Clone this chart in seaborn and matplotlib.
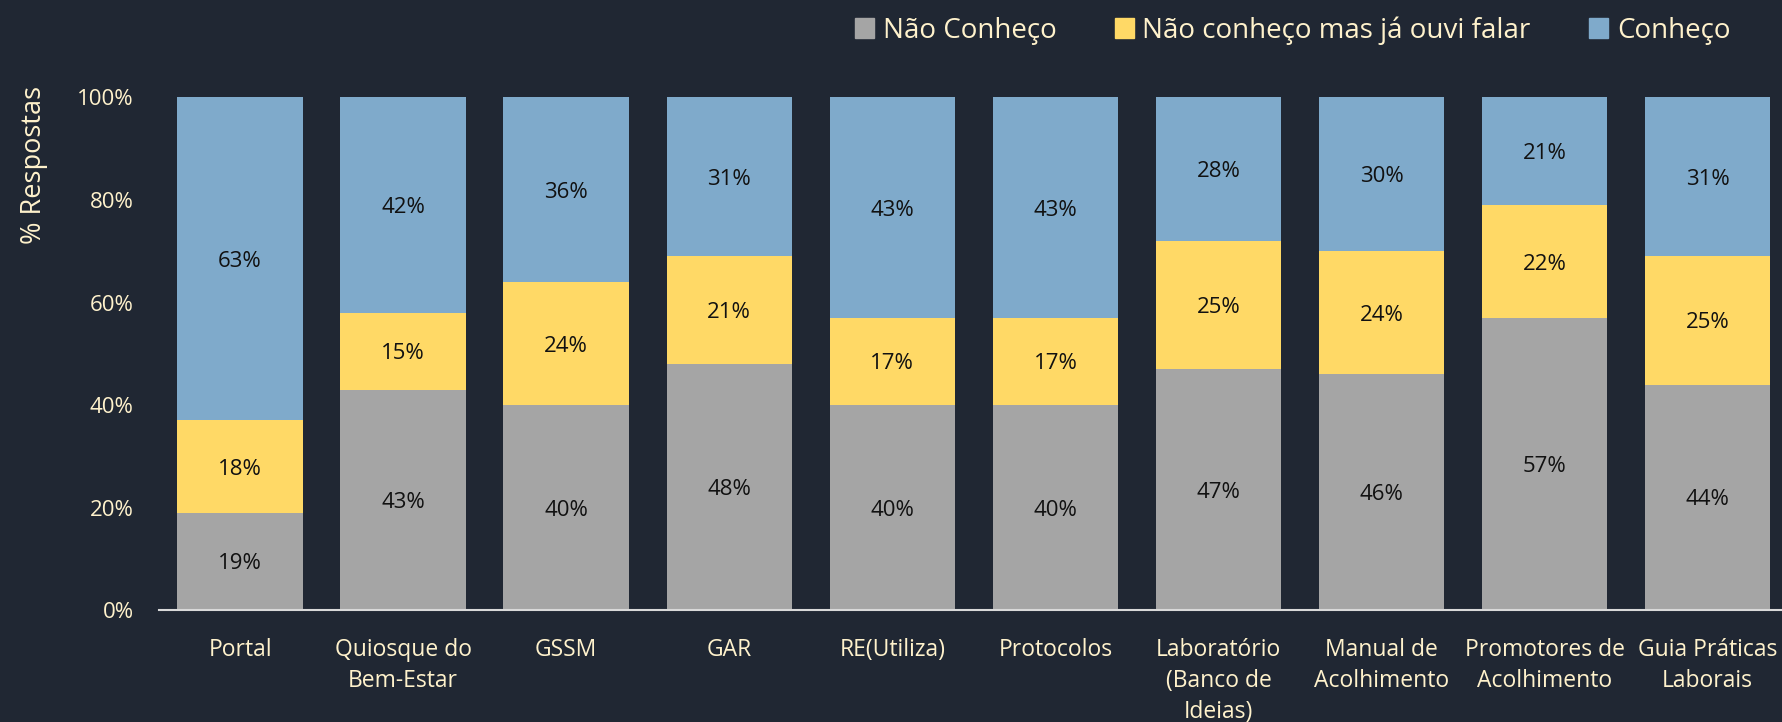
import numpy as np
import pandas as pd
import seaborn as sns
import matplotlib.pyplot as plt

categories = ["Portal", "Quiosque do\nBem-Estar", "GSSM", "GAR", "RE(Utiliza)", "Protocolos",
              "Laboratório\n(Banco de\nIdeias)", "Manual de\nAcolhimento", "Promotores de\nAcolhimento",
              "Guia Práticas\nLaborais"]
nao_conheco = [19, 43, 40, 48, 40, 40, 47, 46, 57, 44]
ja_ouvi = [18, 15, 24, 21, 17, 17, 25, 24, 22, 25]
conheco = [63, 42, 36, 31, 43, 43, 28, 30, 21, 31]
series_names = ["Não Conheço", "Não conheço mas já ouvi falar", "Conheço"]
colors = ["#A5A5A5", "#FFD966", "#7FAACB"]

bg = "#202733"
txt = "#FFF2CC"

sns.set_style("white")
plt.rcParams["font.family"] = ["Open Sans", "DejaVu Sans"]

df = pd.DataFrame({"cat": categories, "a": nao_conheco, "b": ja_ouvi, "c": conheco})
df["ab"] = df["a"] + df["b"]
df["abc"] = df["ab"] + df["c"]

fig = plt.figure(figsize=(17.82, 7.22), dpi=100, facecolor=bg)
ax = fig.add_axes([0.089, 0.155, 0.915, 0.71])
ax.set_facecolor(bg)

# stacked bars by overlaying cumulative totals
for col, color in zip(["abc", "ab", "a"], colors[::-1]):
    sns.barplot(data=df, x="cat", y=col, color=color, width=0.77, ax=ax,
                saturation=1, edgecolor="none")

# segment labels
bottoms = np.zeros(len(df))
for col in ["a", "b", "c"]:
    vals = df[col].to_numpy()
    for i, v in enumerate(vals):
        ax.text(i, bottoms[i] + v / 2, f"{v}%", ha="center", va="center_baseline",
                fontsize=16, color="#111111")
    bottoms += vals

ax.set_ylim(0, 100)
ax.set_xlim(-0.5, len(categories) - 0.5)
ax.set_yticks(range(0, 101, 20))
ax.set_yticklabels([f"{t}%" for t in range(0, 101, 20)])
ax.tick_params(axis="y", length=0, pad=18, labelsize=16, labelcolor=txt)
ax.tick_params(axis="x", length=0, pad=20, labelsize=16.5, labelcolor=txt)
for lbl in ax.get_xticklabels():
    lbl.set_linespacing(1.4)
    lbl.set_va("top")
ax.set_xlabel("")
ax.set_ylabel("% Respostas", fontsize=19.5, color=txt)
ax.yaxis.set_label_coords(-0.068, 0.868)

for s in ["top", "right", "left"]:
    ax.spines[s].set_visible(False)
ax.spines["bottom"].set_color("#D9D9D9")
ax.spines["bottom"].set_linewidth(1.5)

handles = [plt.Rectangle((0, 0), 1, 1, color=c) for c in colors]
fig.legend(handles, series_names, loc="center right", bbox_to_anchor=(0.985, 0.958),
           ncol=3, frameon=False, fontsize=20, labelcolor=txt, handlelength=0.7,
           handleheight=0.7, handletextpad=0.3, columnspacing=2.1)

fig.savefig("out.png", dpi=100, facecolor=bg)
